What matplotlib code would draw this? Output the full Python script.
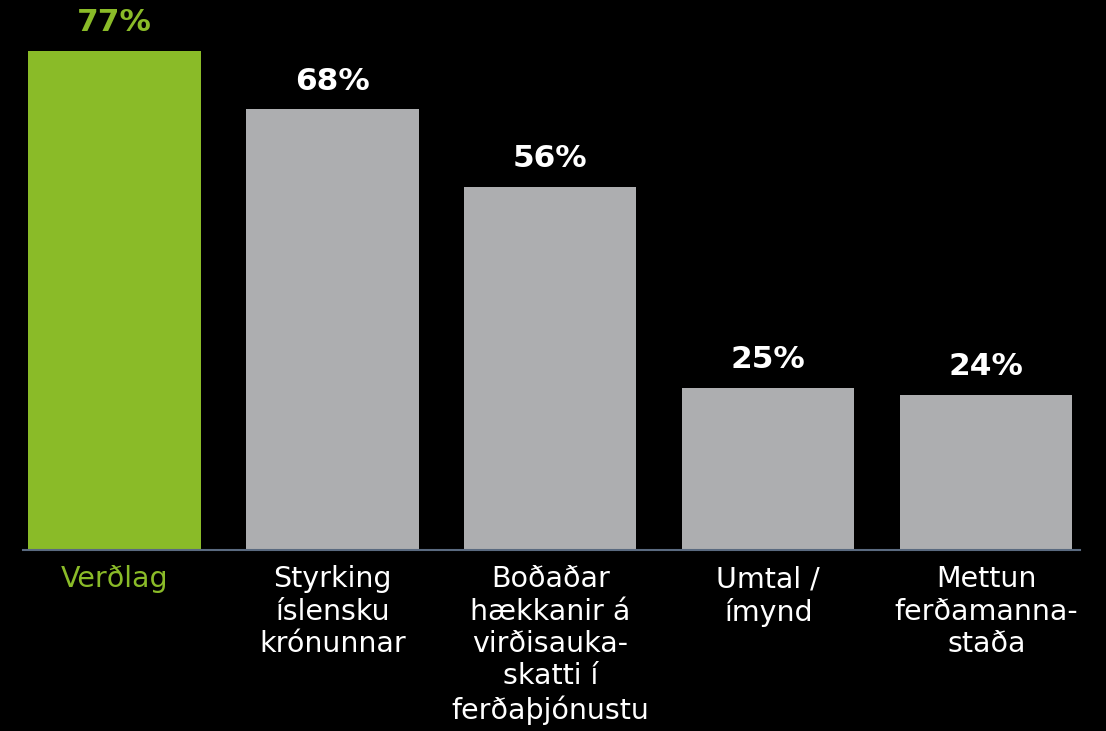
import matplotlib.pyplot as plt

categories = ['Verðlag', 'Styrking\níslensku\nkrónunnar',
              'Boðaðar\nhækkanir á\nvirðisauka-\nskatti í\nferðaþjónustu',
              'Umtal /\nímynd', 'Mettun\nferðamanna-\nstaða']
values = [77, 68, 56, 25, 24]
labels = ['77%', '68%', '56%', '25%', '24%']

green = '#8abb28'
gray = '#adaeb0'
colors = [green] + [gray] * 4
text_colors = [green] + ['white'] * 4

fig = plt.figure(figsize=(11.06, 7.31), dpi=100, facecolor='black')
ax = fig.add_axes([23 / 1106, 181 / 731, 1057 / 1106, 550 / 731])
ax.set_facecolor('black')

x = range(len(values))
ax.bar(x, values, width=0.79, color=colors)

for i in x:
    ax.annotate(labels[i], (i, values[i]), xytext=(0, 10), textcoords='offset points',
                ha='center', va='bottom', fontsize=22.5, fontweight='bold',
                color=text_colors[i])

ax.set_xlim(-0.42, 4.43)
ax.set_ylim(0, 84.9)
ax.set_yticks([])
ax.set_xticks(list(x))
ax.set_xticklabels(categories, fontsize=20.5, linespacing=1.2)
for t, c in zip(ax.get_xticklabels(), text_colors):
    t.set_color(c)
ax.tick_params(axis='x', length=0, pad=11)

for s in ['top', 'left', 'right']:
    ax.spines[s].set_visible(False)
ax.spines['bottom'].set_color('#5a6a80')
ax.spines['bottom'].set_linewidth(1.5)

fig.savefig('out.png', dpi=100, facecolor='black')
